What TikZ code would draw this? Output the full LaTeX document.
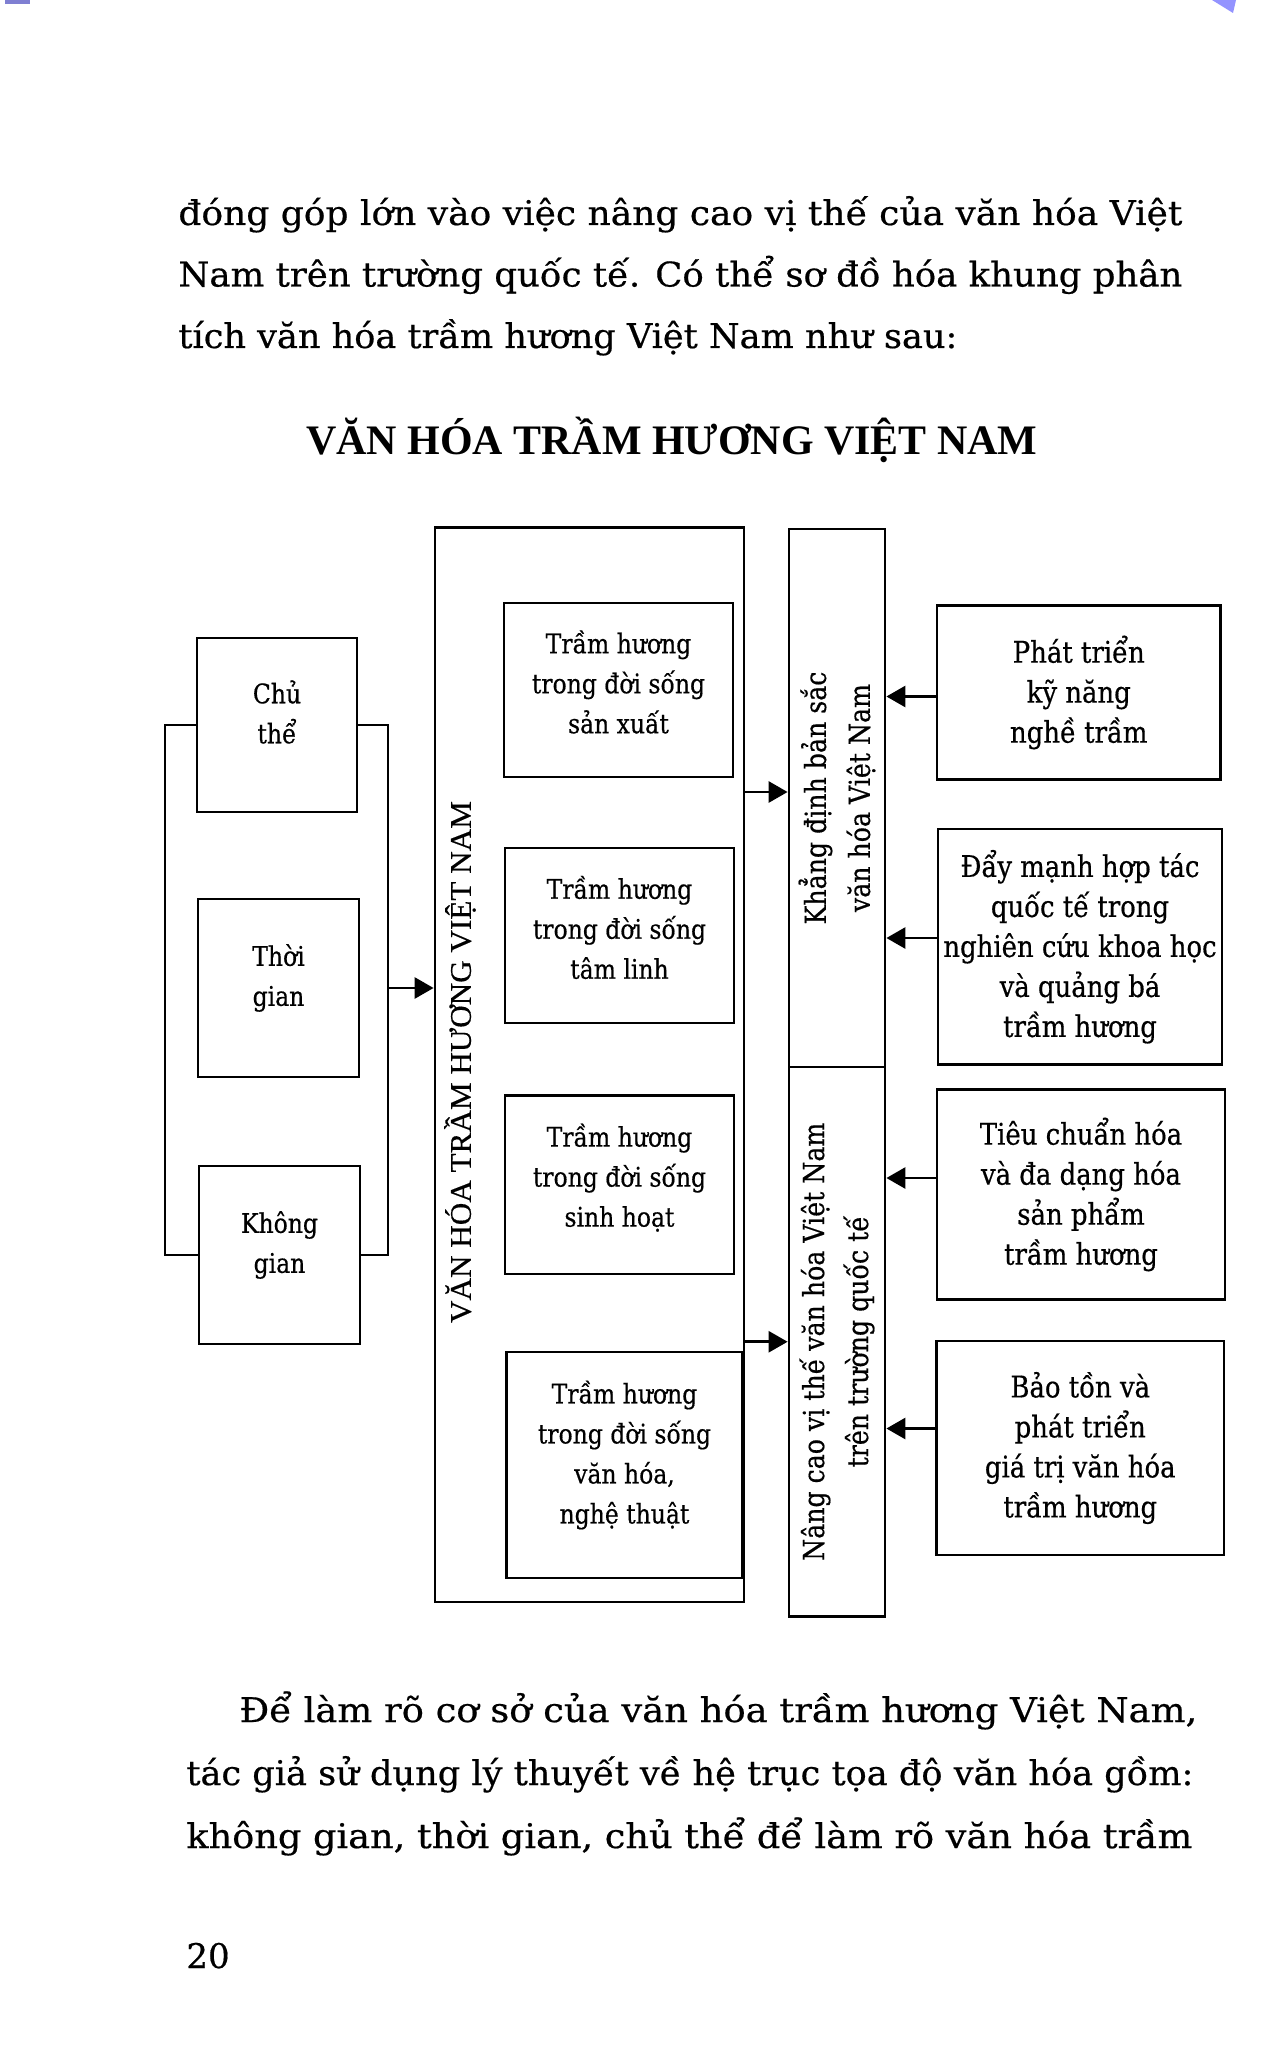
\documentclass[tikz,border=0pt]{standalone}
\usepackage{fontspec}
\usepackage{graphicx}
\usetikzlibrary{arrows.meta}
\newfontfamily\bodyf[FakeBold=0.5]{DejaVu Serif}
\newfontfamily\boxf[FakeStretch=0.87,FakeBold=0.5]{DejaVu Serif}
\newfontfamily\timesf[FakeBold=0.4]{Liberation Serif}
\newfontfamily\timesbf{Liberation Serif Bold}
\begin{document}
\begin{tikzpicture}[x=0.5pt,y=-0.5pt,
  box/.style={draw, line width=1.4pt, inner sep=0pt, align=center,
    font=\boxf\fontsize{13.5}{20}\selectfont},
  rbox/.style={box, font=\boxf\fontsize{14.9}{20}\selectfont},
  txt/.style={align=center, inner sep=0pt, font=\boxf\fontsize{13.5}{20}\selectfont},
  col/.style={draw, line width=1.4pt, inner sep=0pt},
  vlab/.style={rotate=90, align=center, inner sep=0pt,
    font=\boxf\fontsize{14.5}{22}\selectfont},
  arr/.style={line width=1.4pt, -{Triangle[length=9.5pt,width=10.5pt]}},
  lnk/.style={line width=1.4pt},
  bodyline/.style={anchor=base west, inner sep=0pt}]
\useasboundingbox (0,0) rectangle (1260,2048);
\fill[white] (0,0) rectangle (1260,2048);
% scan artefacts
\fill[blue!65!black, opacity=0.5] (5,0) rectangle (30,4);
\fill[blue!70, opacity=0.6] (1212,0) -- (1236,0) -- (1233,13) -- cycle;

% paragraph above
\node[bodyline] (p1) at (178,225) {\resizebox{502pt}{\height}{\bodyf\fontsize{17}{20}\selectfont đóng góp lớn vào việc nâng cao vị thế của văn hóa Việt}};
\node[bodyline] (p2) at (178,286.5) {\resizebox{502pt}{\height}{\bodyf\fontsize{17}{20}\selectfont Nam trên trường quốc tế. Có thể sơ đồ hóa khung phân}};
\node[bodyline] (p3) at (178,348) {\resizebox{389.5pt}{\height}{\bodyf\fontsize{17}{20}\selectfont tích văn hóa trầm hương Việt Nam như sau:}};

% title
\node[bodyline] (title) at (306,455) {\resizebox{365.5pt}{\height}{\timesbf\fontsize{21}{24}\selectfont VĂN HÓA TRẦM HƯƠNG VIỆT NAM}};

% left boxes
\node[box, minimum width=80pt, minimum height=87pt] (chu) at (277,725) {};
\node[box, minimum width=80.5pt, minimum height=89pt] (thoi) at (278.5,988) {};
\node[box, minimum width=80.5pt, minimum height=89pt] (khong) at (279.5,1255) {};
\node[txt] (chut) at ([yshift=6.5pt]chu.center) {Chủ\\thể};
\node[txt] (thoit) at ([yshift=5pt]thoi.center) {Thời\\gian};
\node[txt] (khongt) at ([yshift=5pt]khong.center) {Không\\gian};

% brackets
\coordinate (lb) at (165,725);
\coordinate (rb) at (388,725);
\coordinate (jn) at (388,988);
\draw[lnk] (chu.west) -- (lb) |- (khong.west);
\draw[lnk] (chu.east) -- (rb) |- (khong.east);

% big box
\node[col, minimum width=154.5pt, minimum height=537.25pt] (big) at (589.5,1064.75) {};
\node[rotate=90, inner sep=0pt] (bigl) at (460,1062) {\resizebox{261pt}{\height}{\timesf\fontsize{15}{18}\selectfont VĂN HÓA TRẦM HƯƠNG VIỆT NAM}};
\draw[arr] (jn) -- (jn -| big.west);

% inner boxes
\node[box, minimum width=114.5pt, minimum height=87pt] (i1) at (618.5,690) {};
\node[box, minimum width=114.5pt, minimum height=87.5pt] (i2) at (619.5,935.5) {};
\node[box, minimum width=114.5pt, minimum height=89.25pt] (i3) at (619.5,1184.75) {};
\node[box, minimum width=118pt, minimum height=113pt] (i4) at (624.5,1465) {};
\node[txt] (i1t) at ([yshift=4pt]i1.center) {Trầm hương\\trong đời sống\\sản xuất};
\node[txt] (i2t) at ([yshift=4pt]i2.center) {Trầm hương\\trong đời sống\\tâm linh};
\node[txt] (i3t) at ([yshift=3.5pt]i3.center) {Trầm hương\\trong đời sống\\sinh hoạt};
\node[txt] (i4t) at ([yshift=5pt]i4.center) {Trầm hương\\trong đời sống\\văn hóa,\\nghệ thuật};

% middle columns
\node[col, minimum width=48pt, minimum height=269pt] (kd) at (837,798) {};
\node[col, minimum width=48pt, minimum height=274.75pt] (nc) at (837,1341.75) {};
\node[vlab] (kdl) at (kd.center) {Khẳng định bản sắc\\văn hóa Việt Nam};
\node[vlab] (ncl) at (nc.center) {Nâng cao vị thế văn hóa Việt Nam\\trên trường quốc tế};

\draw[arr] (big.east |- 0,792) -- (kd.west |- 0,792);
\draw[arr] (big.east |- nc.west) -- (nc.west);

% right boxes
\node[rbox, minimum width=141.75pt, minimum height=87pt] (r1) at (1078.75,692.5) {Phát triển\\kỹ năng\\nghề trầm};
\node[rbox, minimum width=142pt, minimum height=117.75pt] (r2) at (1080,946.75) {Đẩy mạnh hợp tác\\quốc tế trong\\nghiên cứu khoa học\\và quảng bá\\trầm hương};
\node[rbox, minimum width=144pt, minimum height=105pt] (r3) at (1081,1194.5) {Tiêu chuẩn hóa\\và đa dạng hóa\\sản phẩm\\trầm hương};
\node[rbox, minimum width=143.75pt, minimum height=107pt] (r4) at (1080.25,1448) {Bảo tồn và\\phát triển\\giá trị văn hóa\\trầm hương};

\draw[arr] (r1.west |- 0,696.5) -- (kd.east |- 0,696.5);
\draw[arr] (r2.west |- 0,938) -- (kd.east |- 0,938);
\draw[arr] (r3.west |- 0,1178) -- (nc.east |- 0,1178);
\draw[arr] (r4.west |- 0,1428.5) -- (nc.east |- 0,1428.5);

% paragraph below
\node[bodyline] (q1) at (239,1722) {\resizebox{479pt}{\height}{\bodyf\fontsize{17}{20}\selectfont Để làm rõ cơ sở của văn hóa trầm hương Việt Nam,}};
\node[bodyline] (q2) at (186,1785) {\resizebox{503.5pt}{\height}{\bodyf\fontsize{17}{20}\selectfont tác giả sử dụng lý thuyết về hệ trục tọa độ văn hóa gồm:}};
\node[bodyline] (q3) at (186,1848) {\resizebox{503pt}{\height}{\bodyf\fontsize{17}{20}\selectfont không gian, thời gian, chủ thể để làm rõ văn hóa trầm}};

% page number
\node[bodyline] (pg) at (186,1968) {\bodyf\fontsize{17}{20}\selectfont 20};
\end{tikzpicture}
\end{document}
